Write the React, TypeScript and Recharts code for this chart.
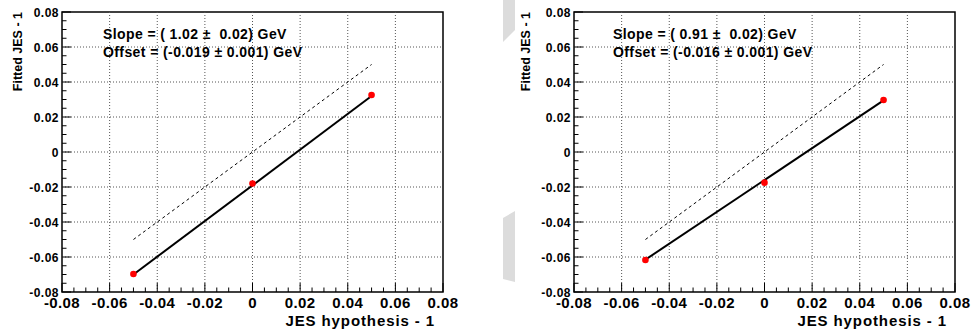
import React from "react"
import { ComposedChart, XAxis, YAxis, Line, Scatter, ReferenceLine, ReferenceArea } from "recharts"

// JES hypothesis points and fitted values
const hypothesis = [-0.05, 0, 0.05]
const fittedLeft = [-0.0697, -0.018, 0.0326]
const fittedRight = [-0.0617, -0.0175, 0.0297]
const fitRange = [-0.05, 0.05]
const fitLineLeft = [-0.07, 0.032]
const fitLineRight = [-0.0615, 0.0295]
const diagonal = [-0.05, 0.05]

const gridValues = [-0.06, -0.04, -0.02, 0, 0.02, 0.04, 0.06]
// minor ticks every 0.005, labels only on the 0.02 steps
const allTicks = Array.from({ length: 33 }, (_, i) => +(-0.08 + i * 0.005).toFixed(3))

const FONT = "'Liberation Sans', Arial, Helvetica, sans-serif"

const isMajor = (v: number) => Math.abs(v * 50 - Math.round(v * 50)) < 1e-6
const fmt = (v: number) => (Math.abs(v) < 1e-9 ? "0" : v.toFixed(2))

const XTick = (props: any) => {
  const { x, y, payload } = props
  const v = payload.value
  const major = isMajor(v)
  return (
    <g>
      <line x1={x} x2={x} y1={y} y2={y - (major ? 9 : 4.5)} stroke="#000" />
      {major && (
        <text x={x} y={y + 15.5} textAnchor="middle" fontFamily={FONT} fontWeight="bold" fontSize={15} letterSpacing={0.4} fill="#000">
          {fmt(v)}
        </text>
      )}
    </g>
  )
}

const YTick = (props: any) => {
  const { x, y, payload } = props
  const v = payload.value
  const major = isMajor(v)
  return (
    <g>
      <line x1={x} x2={x + (major ? 9 : 4.5)} y1={y} y2={y} stroke="#000" />
      {major && (
        <text x={x - 3} y={y + 5} textAnchor="end" fontFamily={FONT} fontWeight="bold" fontSize={12} letterSpacing={0.5} fill="#000">
          {fmt(v)}
        </text>
      )}
    </g>
  )
}

const xTitle = (p: any) => {
  const vb = p.viewBox
  return (
    <text x={vb.x + vb.width - 8} y={vb.y + 34} textAnchor="end" fontFamily={FONT} fontWeight="bold" fontSize={15} letterSpacing={0.9} fill="#000">
      JES hypothesis - 1
    </text>
  )
}

const yTitle = (offset: number) => (p: any) => {
  const vb = p.viewBox
  const x = vb.x + offset
  const y = vb.y
  return (
    <text x={x} y={y} transform={`rotate(-90 ${x} ${y})`} textAnchor="end" fontFamily={FONT} fontWeight="bold" fontSize={12.5} fill="#000">
      Fitted JES - 1
    </text>
  )
}

const Dot = (props: any) => <circle cx={props.cx} cy={props.cy} r={3.3} fill="#ff0000" />

type PanelProps = {
  fitted: number[]
  fitLine: number[]
  yAxisWidth: number
  rightMargin: number
  titleOffset: number
}

function Panel({ fitted, fitLine, yAxisWidth, rightMargin, titleOffset }: PanelProps) {
  const points = hypothesis.map((x, i) => ({ x, y: fitted[i] }))
  const fit = fitRange.map((x, i) => ({ x, y: fitLine[i] }))
  const ident = diagonal.map((x) => ({ x, y: x }))
  return (
    <ComposedChart width={486} height={329} margin={{ top: 12, right: rightMargin, bottom: 0, left: 0 }}>
      <XAxis
        type="number"
        dataKey="x"
        domain={[-0.08, 0.08]}
        ticks={allTicks}
        interval={0}
        allowDataOverflow
        axisLine={false}
        tickLine={false}
        tickSize={0}
        tickMargin={0}
        height={37}
        tick={<XTick />}
        label={xTitle}
      />
      <YAxis
        type="number"
        dataKey="y"
        domain={[-0.08, 0.08]}
        ticks={allTicks}
        interval={0}
        allowDataOverflow
        axisLine={false}
        tickLine={false}
        tickSize={0}
        tickMargin={0}
        width={yAxisWidth}
        tick={<YTick />}
        label={yTitle(titleOffset)}
      />
      {gridValues.map((v) => (
        <ReferenceLine key={"gx" + v} x={v} stroke="#555" strokeDasharray="1 2" />
      ))}
      {gridValues.map((v) => (
        <ReferenceLine key={"gy" + v} y={v} stroke="#555" strokeDasharray="1 2" />
      ))}
      <ReferenceArea x1={-0.08} x2={0.08} y1={-0.08} y2={0.08} fill="none" stroke="#000" strokeWidth={1.5} />
      <Line data={ident} dataKey="y" stroke="#000" strokeWidth={1} strokeDasharray="3 3" dot={false} isAnimationActive={false} />
      <Line data={fit} dataKey="y" stroke="#000" strokeWidth={2} dot={false} isAnimationActive={false} />
      <Scatter data={points} dataKey="y" shape={<Dot />} isAnimationActive={false} />
    </ComposedChart>
  )
}

const noteStyle: React.CSSProperties = {
  position: "absolute",
  fontFamily: FONT,
  fontWeight: "bold",
  fontSize: 14,
  lineHeight: "18px",
  letterSpacing: 0.4,
  whiteSpace: "pre",
  color: "#000",
}

export default function App() {
  return (
    <div style={{ position: "absolute", left: 0, top: 0, width: 972, height: 329, background: "#fff", overflow: "hidden" }}>
      <svg width={972} height={329} style={{ position: "absolute", left: 0, top: 0 }}>
        <polygon points="503,0 515,0 515,30 503,42" fill="#dcdcdc" />
        <polygon points="503,218 515,211 515,282 503,279" fill="#dcdcdc" />
      </svg>
      <div style={{ position: "absolute", left: 0, top: 0 }}>
        <Panel fitted={fittedLeft} fitLine={fitLineLeft} yAxisWidth={62} rightMargin={43} titleOffset={22} />
      </div>
      <div style={{ position: "absolute", left: 486, top: 0 }}>
        <Panel fitted={fittedRight} fitLine={fitLineRight} yAxisWidth={88} rightMargin={17} titleOffset={44} />
      </div>
      <div style={{ ...noteStyle, left: 103, top: 25 }}>
        {"Slope = ( 1.02 \u00b1  0.02) GeV\nOffset = (-0.019 \u00b1 0.001) GeV"}
      </div>
      <div style={{ ...noteStyle, left: 613, top: 25 }}>
        {"Slope = ( 0.91 \u00b1  0.02) GeV\nOffset = (-0.016 \u00b1 0.001) GeV"}
      </div>
    </div>
  )
}
